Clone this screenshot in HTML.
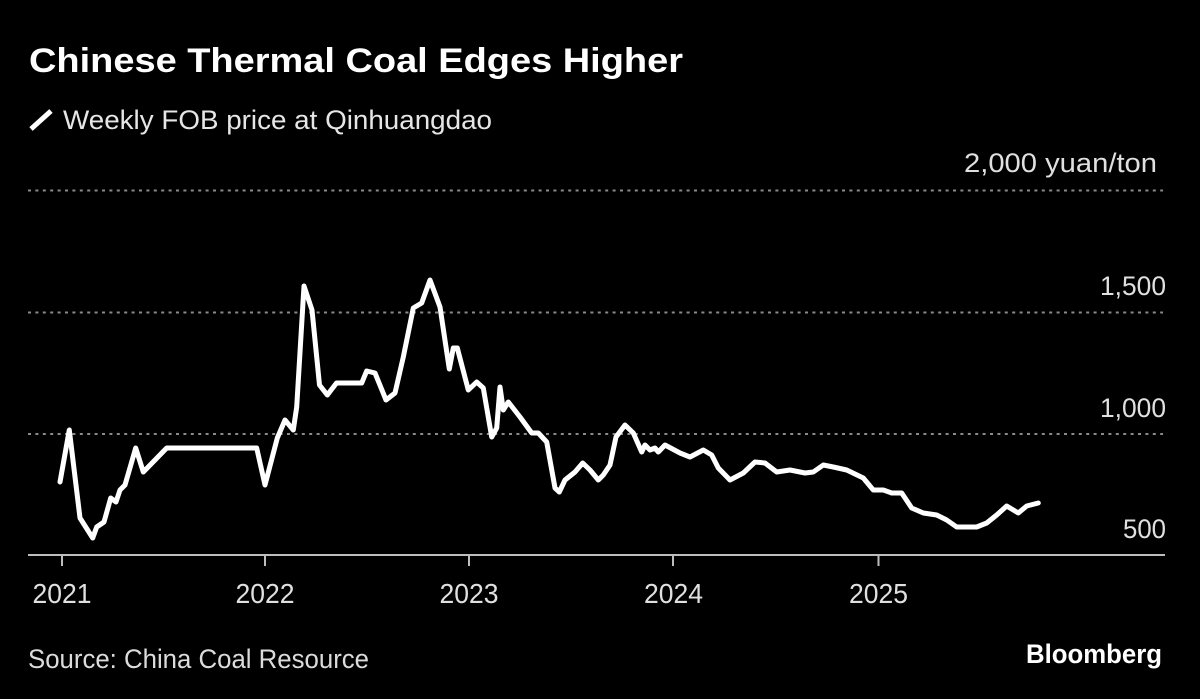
<!DOCTYPE html>
<html>
<head>
<meta charset="utf-8">
<style>
  html,body{margin:0;padding:0;background:#000;}
  svg{display:block;}
  text{font-family:"Liberation Sans", sans-serif;}
</style>
</head>
<body>
<svg width="1200" height="699" viewBox="0 0 1200 699" xmlns="http://www.w3.org/2000/svg">
  <rect x="0" y="0" width="1200" height="699" fill="#000"/>

  <!-- Title -->
  <text x="29" y="72" font-size="34.5" font-weight="bold" fill="#ffffff" textLength="654" lengthAdjust="spacingAndGlyphs">Chinese Thermal Coal Edges Higher</text>

  <!-- Legend -->
  <line x1="31" y1="129" x2="51" y2="111" stroke="#ffffff" stroke-width="5" stroke-linecap="butt"/>
  <text x="63" y="129" font-size="26.5" fill="#e6e6e6" textLength="429" lengthAdjust="spacingAndGlyphs">Weekly FOB price at Qinhuangdao</text>

  <!-- Gridlines -->
  <g stroke="#8a8a8a" stroke-width="2" stroke-dasharray="3 4.4">
    <line x1="28" y1="190.5" x2="1163" y2="190.5"/>
    <line x1="28" y1="312.5" x2="1163" y2="312.5"/>
    <line x1="28" y1="434" x2="1163" y2="434"/>
  </g>

  <!-- Y labels -->
  <g font-size="26.5" fill="#e0e0e0" text-anchor="end">
    <text x="1157" y="172" textLength="193" lengthAdjust="spacingAndGlyphs">2,000 yuan/ton</text>
    <text x="1166" y="295" textLength="66" lengthAdjust="spacingAndGlyphs">1,500</text>
    <text x="1166" y="417" textLength="66" lengthAdjust="spacingAndGlyphs">1,000</text>
    <text x="1166" y="538" textLength="43" lengthAdjust="spacingAndGlyphs">500</text>
  </g>

  <!-- X axis -->
  <line x1="28" y1="555" x2="1165" y2="555" stroke="#bdbdbd" stroke-width="2"/>
  <g stroke="#bdbdbd" stroke-width="2">
    <line x1="62" y1="555" x2="62" y2="566"/>
    <line x1="265" y1="555" x2="265" y2="566"/>
    <line x1="469" y1="555" x2="469" y2="566"/>
    <line x1="673" y1="555" x2="673" y2="566"/>
    <line x1="878.5" y1="555" x2="878.5" y2="566"/>
  </g>
  <g font-size="27.5" fill="#e0e0e0" text-anchor="middle">
    <text x="62" y="603" textLength="59" lengthAdjust="spacingAndGlyphs">2021</text>
    <text x="265" y="603" textLength="59" lengthAdjust="spacingAndGlyphs">2022</text>
    <text x="469" y="603" textLength="59" lengthAdjust="spacingAndGlyphs">2023</text>
    <text x="673.5" y="603" textLength="59" lengthAdjust="spacingAndGlyphs">2024</text>
    <text x="878.5" y="603" textLength="59" lengthAdjust="spacingAndGlyphs">2025</text>
  </g>

  <!-- Series -->
  <polyline fill="none" stroke="#ffffff" stroke-width="5" stroke-linejoin="round" stroke-linecap="round"
    points="60,482 69.3,430 80,518 92.7,538 96.7,527 104,522 110.7,498 116,502 120,490 125,485 135.7,448 143.3,472 166.7,448 256.7,448 265,485 277.3,438 285,420 293.3,430 296.7,407 304,286 312,310 319.5,385 327.3,395 336.5,383 361.7,383 366.7,371 375,373 386,400 395,393 403.3,357 413.3,308 421.7,303 430,280 440,307 449.3,369 453.3,348 457.3,348 468.3,390 476.7,382 483.3,388 491.7,437 496.7,428 500,387 503.3,410 508.3,402 520,417 531.7,433 538.3,433 546.7,442 555,488 559.3,492 565,480 575,472 582.7,463 590,470 598.3,480 603.3,475 610,465 616,437 625,425 633.3,433 641.7,452 645,445 650,450 655,448 658.3,452 665,445 680,453 690,457 703.3,450 711.7,455 718.3,468 730,480 743.3,473 755,462 765,463 776.7,472 790,470 805,473 813.3,472 823.3,465 833.3,467 846.7,470 863.3,478 873.3,490 883.3,490 891.7,493 901.7,493 911.7,508 923.3,513 936.7,515 946.7,520 956.7,527 976.7,527 986.7,523 996.7,515 1006.7,506 1018.3,513 1026.7,506 1038.3,503"/>

  <!-- Footer -->
  <text x="28" y="668" font-size="27" fill="#dcdcdc" textLength="341" lengthAdjust="spacingAndGlyphs">Source: China Coal Resource</text>
  <text x="1026" y="663" font-size="27" font-weight="bold" fill="#ffffff" textLength="136" lengthAdjust="spacingAndGlyphs">Bloomberg</text>
</svg>
</body>
</html>
